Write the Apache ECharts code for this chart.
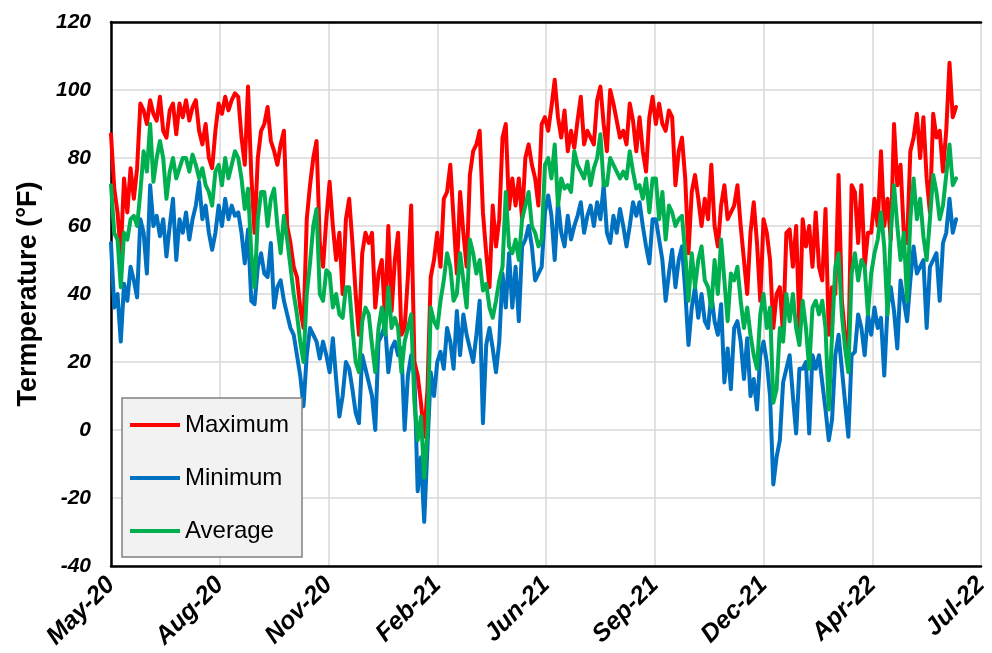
<!DOCTYPE html>
<html>
<head>
<meta charset="utf-8">
<script src="https://cdn.jsdelivr.net/npm/echarts@6/dist/echarts.min.js"></script>
<style>html,body{margin:0;padding:0;background:#fff}#chart{width:992px;height:653px}</style>
</head>
<body>
<div id="chart"></div>
<script>
// Series names and axis tick labels
const seriesNames = ['Maximum', 'Minimum', 'Average'];
const xTickLabels = ['May-20', 'Aug-20', 'Nov-20', 'Feb-21', 'Jun-21', 'Sep-21', 'Dec-21', 'Apr-22', 'Jul-22'];
const xTickDays = 100;         // one labelled tick every 100 days from 1 May 2020
const STEP_DAYS = 3;           // values below: one reading every 3 days from 1 May 2020

// Daily maximum temperature (°F)
const maxTemp = [
  87,71,64,52,74,64,77,68,77,96, 94,90,97,93,91,98,88,86,94,96, 87,96,92,97,91,95,97,88,84,90, 80,77,
  88,96,93,98,94,97,99,98,86,78, 101,75,58,80,88,90,95,85,82,78, 84,88,60,55,48,45,36,30,62,72, 80,85,55,
  48,62,73,60,50,58,40,62,68,55, 40,28,52,58,55,58,36,46,50,33, 60,35,50,58,28,30,45,66,20,16, 8,-2,12,45,
  50,58,48,68,70,78,62,46,70,58, 48,75,82,84,88,64,52,42,66,54, 62,86,90,65,74,66,74,62,80,84, 78,74,66,
  90,92,88,95,103,92,86,94,82,88, 83,91,98,84,88,86,84,97,101,90, 82,100,96,91,86,88,84,96,91,82, 92,82,76,92,
  98,90,96,90,88,94,92,72,82,86, 74,52,70,75,68,60,68,62,78,60, 54,66,72,62,64,66,72,60,50,40, 58,67,55,38,
  62,58,50,30,40,42,28,58,59,48, 60,30,62,54,60,48,64,48,44,65, 28,42,40,75,38,28,22,72,70,55, 72,48,58,
  58,68,60,82,60,68,56,90,72,78, 58,55,82,86,93,80,92,74,64,93, 86,88,76,88,108,92,95
];

// Daily minimum temperature (°F)
const minTemp = [
  55,36,40,26,43,38,48,44,39,62, 58,46,72,60,63,57,62,51,60,68, 50,62,58,64,56,62,66,73,62,66, 58,53,
  58,66,60,68,62,66,63,64,58,49, 59,38,37,48,52,46,45,55,36,42, 44,38,34,30,28,22,16,7,22,30, 28,26,21,
  26,22,17,27,15,4,10,20,18,12, 5,2,22,18,14,10,0,26,28,31, 17,24,26,22,24,0,16,22,16,-18, -8,-27,-5,17,
  10,20,23,18,30,26,18,35,22,34, 28,24,20,28,38,2,25,30,24,17, 26,46,36,52,36,48,32,54,56,60, 54,44,46,
  48,64,69,63,50,67,58,54,63,56, 60,63,67,58,63,66,60,67,62,72, 58,55,63,58,65,60,54,60,67,63, 67,60,54,49,
  62,62,56,50,38,46,53,42,50,54, 41,25,36,42,33,40,32,30,40,32, 28,37,14,24,12,30,32,26,15,27, 10,15,6,22,
  26,20,10,-16,-8,-3,14,18,22,10, -1,18,18,20,-1,22,18,22,14,6, -3,3,22,28,18,8,-2,22,23,34, 30,22,34,
  28,36,30,33,16,36,42,35,24,44, 38,32,44,54,46,48,50,30,48,50, 52,38,55,58,68,58,62
];

// Daily average temperature (°F)
const avgTemp = [
  72,58,56,42,58,56,62,63,60,70, 82,76,90,73,80,85,80,68,76,80, 74,77,80,80,76,81,78,74,77,72, 70,66,
  76,78,72,80,74,78,82,80,74,65, 71,52,42,62,70,70,60,68,71,60, 52,63,56,48,40,34,26,20,40,49, 60,65,40,
  38,47,46,36,40,34,33,42,42,30, 20,17,32,36,34,25,17,30,36,28, 42,30,33,30,17,26,30,34,8,-3, 4,-14,0,36,
  32,30,38,44,52,48,38,40,52,44, 36,56,52,46,50,41,43,36,33,38, 44,48,70,54,52,56,50,62,66,70, 60,58,54,
  56,78,80,74,84,66,74,71,72,70, 82,78,76,74,79,72,77,80,87,72, 72,80,78,76,74,76,74,82,76,71, 72,68,74,64,
  74,74,62,70,56,66,64,60,62,63, 52,38,52,42,50,54,44,42,36,50, 40,56,44,32,46,44,48,38,30,36, 28,22,18,34,
  40,30,36,8,12,30,26,40,32,40, 30,25,38,30,18,36,38,34,38,30, 6,28,48,52,34,24,17,46,52,44, 50,48,34,
  46,52,56,64,54,34,58,72,60,50, 58,38,62,74,62,68,57,50,62,75, 70,62,66,75,84,72,74
];

const seriesValues = [maxTemp, minTemp, avgTemp];
const seriesColors = ['#ff0000', '#0070c0', '#00b050'];

const FONT = "'Liberation Sans', Arial, Helvetica, sans-serif";
function toPoints(arr) { return arr.map((v, i) => [i * STEP_DAYS, v]); }

const chart = echarts.init(document.getElementById('chart'), null, {renderer: 'canvas'});
const option = {
  animation: false,
  backgroundColor: '#ffffff',
  grid: {left: 111, right: 2, top: 22, bottom: 87, containLabel: false},
  xAxis: [
    {
      type: 'value', min: 0, max: xTickDays * (xTickLabels.length - 1), interval: xTickDays,
      axisLine: {show: true, onZero: false, lineStyle: {color: '#000', width: 2.5}},
      axisTick: {show: false},
      splitLine: {show: true, lineStyle: {color: '#d9d9d9', width: 1.5}},
      axisLabel: {
        rotate: 45, margin: 15, showMinLabel: true, showMaxLabel: true,
        formatter: v => xTickLabels[Math.round(v / xTickDays)] || '',
        fontFamily: FONT, fontSize: 25, fontWeight: 'bold', fontStyle: 'italic', color: '#000'
      }
    },
    {
      type: 'value', position: 'top', min: 0, max: xTickDays * (xTickLabels.length - 1),
      axisLine: {show: true, onZero: false, lineStyle: {color: '#000', width: 2.5}},
      axisTick: {show: false}, axisLabel: {show: false}, splitLine: {show: false}
    }
  ],
  yAxis: {
    type: 'value', min: -40, max: 120, interval: 20,
    name: 'Termperature (°F)', nameLocation: 'middle', nameGap: 69,
    nameTextStyle: {fontFamily: FONT, fontSize: 27, fontWeight: 'bold', color: '#000'},
    axisLine: {show: true, onZero: false, lineStyle: {color: '#000', width: 2.5}},
    axisTick: {show: false},
    splitLine: {show: true, lineStyle: {color: '#d9d9d9', width: 1.5}},
    axisLabel: {margin: 20, fontFamily: FONT, fontSize: 21, fontWeight: 'bold', fontStyle: 'italic', color: '#000'}
  },
  legend: {
    orient: 'vertical', left: 122, top: 398,
    data: seriesNames.map(n => ({name: n, icon: 'rect'})),
    itemWidth: 50, itemHeight: 4, itemGap: 29,
    padding: [15, 13, 14, 8],
    backgroundColor: '#f2f2f2', borderColor: '#808080', borderWidth: 1.5, borderRadius: 0,
    textStyle: {fontFamily: FONT, fontSize: 24, color: '#000', lineHeight: 24, height: 24}
  },
  series: seriesNames.map((name, k) => ({
    name: name, type: 'line', data: toPoints(seriesValues[k]),
    symbol: 'none', showSymbol: false,
    lineStyle: {color: seriesColors[k], width: 4, join: 'round', cap: 'round'},
    itemStyle: {color: seriesColors[k]},
    z: 2 + k
  }))
};
chart.setOption(option);
</script>
</body>
</html>
